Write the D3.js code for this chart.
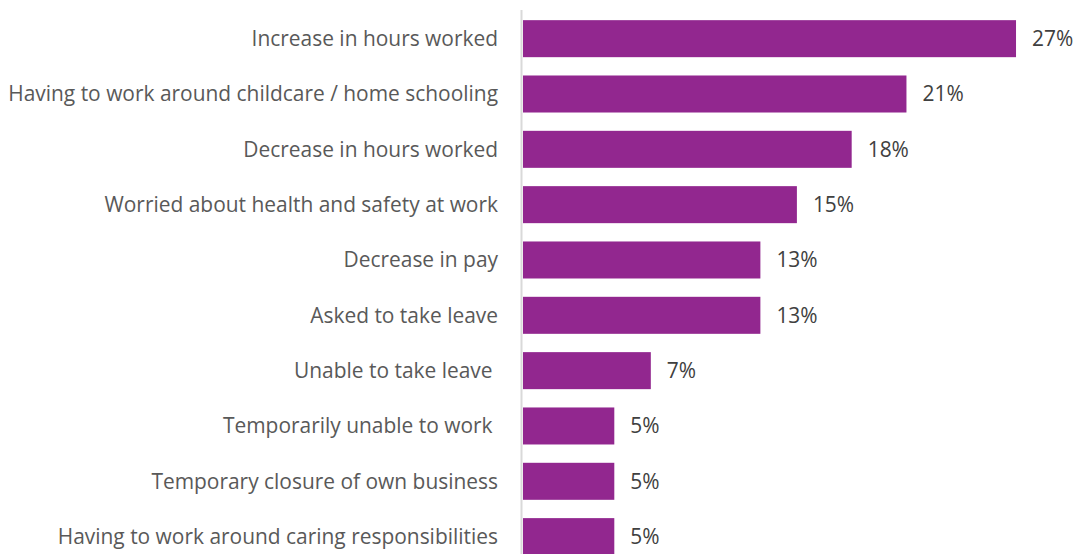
<!DOCTYPE html>
<html>
<head>
<meta charset="utf-8">
<script src="https://cdn.jsdelivr.net/npm/d3@7"></script>
<style>
  html, body { margin: 0; padding: 0; background: #fff; }
  svg { display: block; }
  text { white-space: pre; }
</style>
</head>
<body>
<svg id="chart" width="1073" height="554"></svg>
<script>
// Workplace impacts, share of respondents (%)
const categories = [
  "Increase in hours worked",
  "Having to work around childcare / home schooling",
  "Decrease in hours worked",
  "Worried about health and safety at work",
  "Decrease in pay",
  "Asked to take leave",
  "Unable to take leave ",
  "Temporarily unable to work ",
  "Temporary closure of own business",
  "Having to work around caring responsibilities"
];
const values = [27, 21, 18, 15, 13, 13, 7, 5, 5, 5];

const svg = d3.select("#chart");
const x0 = 523;
const fontFamily = "'Open Sans', Lato, sans-serif";

const x = d3.scaleLinear().domain([0, 30]).range([x0, x0 + 30 * 18.26]);
const y = d3.scaleBand()
  .domain(categories)
  .range([11, 564.3])
  .paddingInner(0.331)
  .paddingOuter(0.1656);

// pick a label size so the longest category spans ~490px
const probe = svg.append("text")
  .attr("font-family", fontFamily)
  .attr("font-size", 20)
  .text(categories[1]);
const w20 = probe.node().getComputedTextLength();
probe.remove();
const labelSize = Math.min(22, Math.max(16, 20 * 490 / w20));

// bars
svg.append("g").selectAll("rect")
  .data(values)
  .join("rect")
  .attr("x", x(0))
  .attr("y", (d, i) => y(categories[i]))
  .attr("width", d => x(d) - x(0))
  .attr("height", y.bandwidth())
  .attr("fill", "#92278f");

// vertical axis line
svg.append("line")
  .attr("x1", x0 - 1.5).attr("x2", x0 - 1.5)
  .attr("y1", 10).attr("y2", 554)
  .attr("stroke", "#d9d9d9")
  .attr("stroke-width", 2);

// category labels
svg.append("g").selectAll("text")
  .data(categories)
  .join("text")
  .attr("x", 498)
  .attr("y", d => y(d) + y.bandwidth() / 2)
  .attr("dy", "0.35em")
  .attr("text-anchor", "end")
  .attr("font-family", fontFamily)
  .attr("font-size", labelSize)
  .attr("fill", "#595959")
  .text(d => d);

// value labels
svg.append("g").selectAll("text")
  .data(values)
  .join("text")
  .attr("x", d => x(d) + 16)
  .attr("y", (d, i) => y(categories[i]) + y.bandwidth() / 2)
  .attr("dy", "0.35em")
  .attr("font-family", fontFamily)
  .attr("font-size", labelSize)
  .attr("fill", "#404040")
  .text(d => d + "%");
</script>
</body>
</html>
